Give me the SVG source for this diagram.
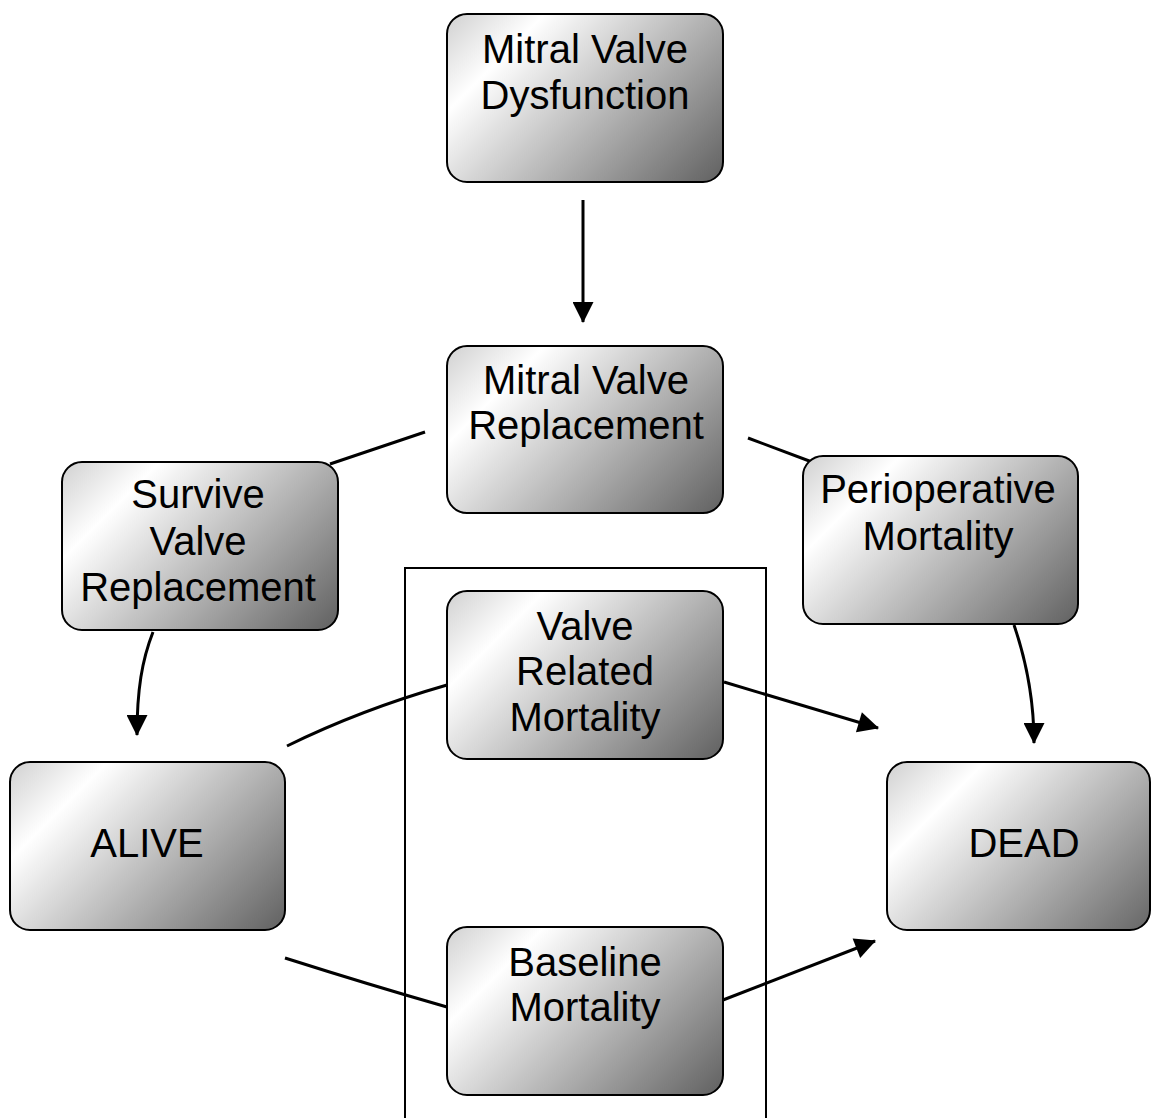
<svg xmlns="http://www.w3.org/2000/svg" width="1151" height="1118" viewBox="0 0 1151 1118">
<style>
.box{fill:url(#g);stroke:#000;stroke-width:2}
.t{font-family:"Liberation Sans",Arial,sans-serif;font-size:40px;fill:#000;text-anchor:middle}
.c{fill:none;stroke:#000;stroke-width:3}
.a{marker-end:url(#ah)}
</style>
<defs>
<linearGradient id="g" gradientUnits="userSpaceOnUse" x1="0" y1="0" x2="222" y2="222">
<stop offset="0" stop-color="#d0d0d0"/>
<stop offset="0.22" stop-color="#ffffff"/>
<stop offset="1" stop-color="#606060"/>
</linearGradient>
<marker id="ah" viewBox="0 0 20 20" markerUnits="userSpaceOnUse" markerWidth="22" markerHeight="21" refX="19" refY="10" orient="auto">
<path d="M0,0 L20,10 L0,20 z" fill="#000"/>
</marker>
</defs>
<rect id="container" x="405" y="568" width="361" height="600" fill="none" stroke="#000" stroke-width="2"/>
<g id="connectors">
<path class="c a" d="M583,200 L583,322"/>
<path class="c" d="M425,432 L330,464"/>
<path class="c" d="M748,438 L812,462"/>
<path class="c a" d="M153,632 C142,660 137,690 137,735"/>
<path class="c a" d="M1014,625 C1026,660 1034,700 1034,743"/>
<path class="c" d="M287,746 Q360,710 447,685"/>
<path class="c a" d="M724,682 L878,728"/>
<path class="c" d="M285,958 Q370,985 447,1007"/>
<path class="c a" d="M723,1000 Q800,970 875,941"/>
</g>
<g id="n1" transform="translate(447,14)"><rect class="box" width="276" height="168" rx="20"/><text class="t" x="138" y="49">Mitral Valve</text><text class="t" x="138" y="95">Dysfunction</text></g>
<g id="n2" transform="translate(447,346)"><rect class="box" width="276" height="167" rx="20"/><text class="t" x="139" y="48">Mitral Valve</text><text class="t" x="139" y="93">Replacement</text></g>
<g id="n3" transform="translate(62,462)"><rect class="box" width="276" height="168" rx="20"/><text class="t" x="136" y="46">Survive</text><text class="t" x="136" y="93">Valve</text><text class="t" x="136" y="139">Replacement</text></g>
<g id="n4" transform="translate(803,456)"><rect class="box" width="275" height="168" rx="20"/><text class="t" x="135" y="47">Perioperative</text><text class="t" x="135" y="94">Mortality</text></g>
<g id="n5" transform="translate(447,591)"><rect class="box" width="276" height="168" rx="20"/><text class="t" x="138" y="49">Valve</text><text class="t" x="138" y="94">Related</text><text class="t" x="138" y="140">Mortality</text></g>
<g id="n6" transform="translate(10,762)"><rect class="box" width="275" height="168" rx="20"/><text class="t" x="137" y="95">ALIVE</text></g>
<g id="n7" transform="translate(887,762)"><rect class="box" width="263" height="168" rx="20"/><text class="t" x="137" y="95">DEAD</text></g>
<g id="n8" transform="translate(447,927)"><rect class="box" width="276" height="168" rx="20"/><text class="t" x="138" y="49">Baseline</text><text class="t" x="138" y="94">Mortality</text></g>
</svg>
